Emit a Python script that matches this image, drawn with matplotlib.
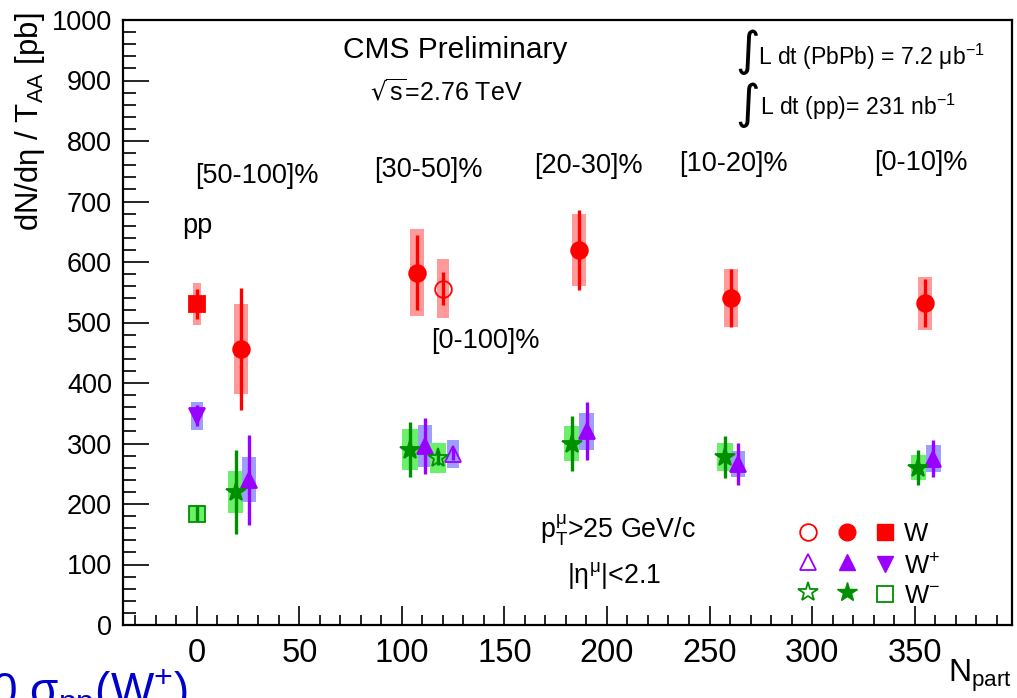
import numpy as np
import matplotlib
matplotlib.use('Agg')
import matplotlib.pyplot as plt
from matplotlib.lines import Line2D
from matplotlib.ticker import MultipleLocator

plt.rcParams['font.family'] = ['Liberation Sans', 'DejaVu Sans']

# W (mu+ + mu-) per centrality bin
npart_w = [21.5, 107.5, 186.3, 260.5, 355.1]
w_val = [456, 582, 620, 540, 532]
w_stat = [101, 62, 66, 48, 40]
w_sys = [75, 72, 60, 48, 44]

# W+
npart_wp = [25.4, 111.2, 190.1, 264.0, 359.2]
wp_val = [240, 296, 320, 266, 275]
wp_stat = [74, 46, 48, 35, 30]
wp_sys = [37, 35, 30, 22, 22]

# W-
npart_wm = [18.9, 103.9, 182.8, 257.6, 351.9]
wm_val = [220, 290, 300, 278, 260]
wm_stat = [70, 45, 45, 35, 29]
wm_sys = [35, 34, 29, 23, 21]

# pp reference, W / W+ / W-
pp_x = [0, 0, 0]
pp_val = [531, 346, 184]
pp_stat = [25, 17, 12]
pp_sys = [35, 23, 14]

# [0-100]% , W / W+ / W-
mb_x = [120.1, 125.0, 117.7]
mb_val = [556, 282, 276]
mb_stat = [27, 10, 11]
mb_sys = [49, 23, 24]

cent_labels = ['[50-100]%', '[30-50]%', '[20-30]%', '[10-20]%', '[0-10]%']

red, red_box = '#ff0000', '#ff9a9a'
pur, pur_box = '#9a00ff', '#9e9eff'
grn, grn_box = '#008f00', '#6cf06c'

W, H = 1017, 698
fig = plt.figure(figsize=(W / 100, H / 100), dpi=100)
ax = fig.add_axes([123 / W, 1 - 625 / H, (1012 - 123) / W, (625 - 20) / H])


def boxes(x, y, sys, width, color):
    y = np.array(y)
    sys = np.array(sys)
    ax.bar(x, 2 * sys, bottom=y - sys, width=width, color=color,
           linewidth=0, zorder=1)


def points(x, y, stat, color, marker, ms, filled=True):
    ax.errorbar(x, y, yerr=stat, fmt=marker, color=color, ms=ms,
                mfc=color if filled else 'none', mec=color, mew=1.3,
                elinewidth=2.4, capsize=0, zorder=3)


# systematic boxes
boxes(npart_wm, wm_val, wm_sys, 7.5, grn_box)
boxes(npart_wp, wp_val, wp_sys, 7.0, pur_box)
boxes(npart_w, w_val, w_sys, 7.0, red_box)
boxes(pp_x[2], pp_val[2], pp_sys[2], 8.0, grn_box)
boxes(pp_x[1], pp_val[1], pp_sys[1], 6.0, pur_box)
boxes(pp_x[0], pp_val[0], pp_sys[0], 4.0, red_box)
boxes(mb_x[2], mb_val[2], mb_sys[2], 8.0, grn_box)
boxes(mb_x[1], mb_val[1], mb_sys[1], 6.0, pur_box)
boxes(mb_x[0], mb_val[0], mb_sys[0], 6.0, red_box)

# markers + stat errors
points(npart_w, w_val, w_stat, red, 'o', 12)
points(npart_wp, wp_val, wp_stat, pur, '^', 12)
points(npart_wm, wm_val, wm_stat, grn, '*', 15)
points(pp_x[0], pp_val[0], pp_stat[0], red, 's', 11)
points(pp_x[1], pp_val[1], pp_stat[1], pur, 'v', 12)
points(pp_x[2], pp_val[2], pp_stat[2], grn, 's', 11, filled=False)
points(mb_x[0], mb_val[0], mb_stat[0], red, 'o', 12, filled=False)
points(mb_x[1], mb_val[1], mb_stat[1], pur, '^', 12, filled=False)
points(mb_x[2], mb_val[2], mb_stat[2], grn, '*', 15, filled=False)

ax.set_xlim(-36, 397.5)
ax.set_ylim(0, 1000)
ax.xaxis.set_major_locator(MultipleLocator(50))
ax.xaxis.set_minor_locator(MultipleLocator(10))
ax.yaxis.set_major_locator(MultipleLocator(100))
ax.yaxis.set_minor_locator(MultipleLocator(20))
ax.tick_params(axis='y', which='major', direction='in', length=18.7, width=1.2,
               labelsize=19.5, pad=8)
ax.tick_params(axis='y', which='minor', direction='in', length=9.4, width=1.2)
ax.tick_params(axis='x', which='major', direction='in', length=13.7, width=1.2,
               labelsize=23.5, pad=9)
ax.tick_params(axis='x', which='minor', direction='in', length=7.2, width=1.2)
for s in ax.spines.values():
    s.set_linewidth(1.6)

# axis titles
fig.text(13 / W, 1 - 12 / H, r'dN/dη / T$_{\mathregular{AA}}$ [pb]', rotation=90,
         ha='left', va='top', fontsize=22.4)
fig.text(1012 / W, 1 - 682 / H, r'N$_{\mathregular{part}}$', ha='right',
         va='baseline', fontsize=23)

# labels
fig.text(343 / W, 1 - 58 / H, 'CMS Preliminary', fontsize=21.5, va='baseline')
fig.text(370 / W, 1 - 100 / H, r'$\sqrt{\mathregular{s}}$=2.76 TeV', fontsize=18,
         va='baseline')
fig.text(748 / W, 1 - 52 / H, '∫', family='DejaVu Sans', fontsize=34,
         ha='center', va='center')
fig.text(758 / W, 1 - 65 / H, r'L dt (PbPb) = 7.2 μb$^{\mathregular{-1}}$',
         fontsize=16.6, va='baseline')
fig.text(748 / W, 1 - 105 / H, '∫', family='DejaVu Sans', fontsize=34,
         ha='center', va='center')
fig.text(760 / W, 1 - 115 / H, r'L dt (pp)= 231 nb$^{\mathregular{-1}}$',
         fontsize=16.6, va='baseline')

cent_pos = [(257, 176), (428, 170), (588, 166), (733, 164), (921, 163)]
for lab, (px, py) in zip(cent_labels, cent_pos):
    fig.text(px / W, 1 - py / H, lab, fontsize=19.5, ha='center', va='center')
fig.text(197 / W, 1 - 233 / H, 'pp', fontsize=19.5, ha='center', va='baseline')
fig.text(485 / W, 1 - 341 / H, '[0-100]%', fontsize=19.5, ha='center', va='center')

fig.text(540 / W, 1 - 538 / H, r'p$_{\mathregular{T}}^{\mathregular{μ}}$>25 GeV/c',
         fontsize=19.3, va='baseline')
fig.text(567 / W, 1 - 583 / H, r'|η$^{\mathregular{μ}}$|<2.1', fontsize=19.3,
         va='baseline')

# legend: open = [0-100]%, filled = centrality bins / pp
handles = [
    Line2D([], [], ls='none', marker='o', mfc='none', mec=red, ms=12, mew=1.3),
    Line2D([], [], ls='none', marker='^', mfc='none', mec=pur, ms=12, mew=1.3),
    Line2D([], [], ls='none', marker='*', mfc='none', mec=grn, ms=15, mew=1.3),
    Line2D([], [], ls='none', marker='o', color=red, ms=12),
    Line2D([], [], ls='none', marker='^', color=pur, ms=12),
    Line2D([], [], ls='none', marker='*', color=grn, ms=15),
    Line2D([], [], ls='none', marker='s', color=red, ms=11),
    Line2D([], [], ls='none', marker='v', color=pur, ms=12),
    Line2D([], [], ls='none', marker='s', mfc='none', mec=grn, ms=11, mew=1.3),
]
labels = ['', '', '', '', '', '', 'W', r'W$^{\mathregular{+}}$', r'W$^{\mathregular{-}}$']
ax.legend(handles, labels, ncol=3, frameon=False, fontsize=18.5, handlelength=0.8,
          handletextpad=0.34, columnspacing=0.36, labelspacing=0.24, borderpad=0,
          borderaxespad=0, loc='upper left', bbox_to_anchor=(798 / W, 1 - 522 / H),
          bbox_transform=fig.transFigure)

# cut-off slide text at the bottom edge
fig.text(188 / W, -8 / H, r'0 σ$_{\mathregular{pp}}$(W$^{\mathregular{+}}$)',
         color='#0000cc', fontsize=33, ha='right', va='baseline')

fig.savefig('out.png', dpi=100)
